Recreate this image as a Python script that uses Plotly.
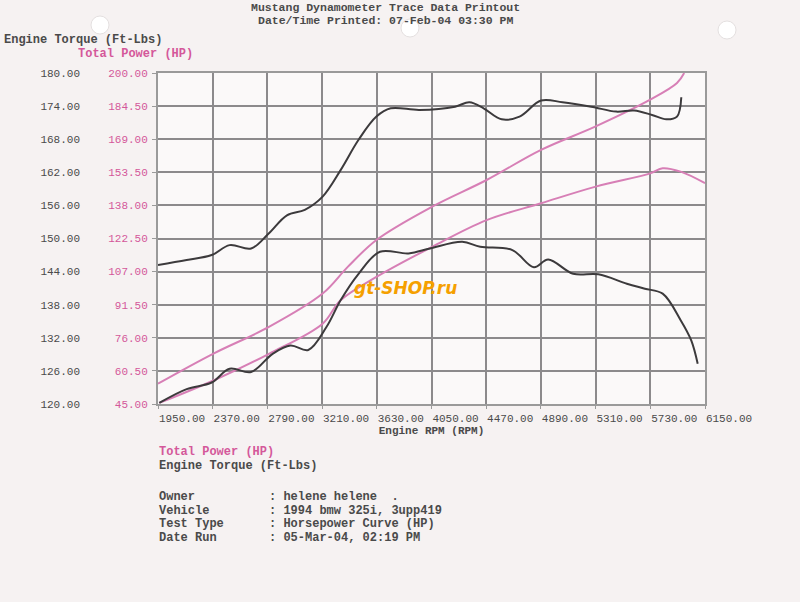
import plotly.graph_objects as go

# ---------------- data ----------------
rpm_ticks = [1950, 2370, 2790, 3210, 3630, 4050, 4470, 4890, 5310, 5730, 6150]
rpm_tick_labels = ["1950.00", "2370.00", "2790.00", "3210.00", "3630.00", "4050.00",
                   "4470.00", "4890.00", "5310.00", "5730.00", "6150.00"]
torque_ticks = [120, 126, 132, 138, 144, 150, 156, 162, 168, 174, 180]
torque_tick_labels = ["120.00", "126.00", "132.00", "138.00", "144.00", "150.00",
                      "156.00", "162.00", "168.00", "174.00", "180.00"]
power_ticks = [45, 60.5, 76, 91.5, 107, 122.5, 138, 153.5, 169, 184.5, 200]
power_tick_labels = ["45.00", "60.50", "76.00", "91.50", "107.00", "122.50",
                     "138.00", "153.50", "169.00", "184.50", "200.00"]

rpm_torque_a = [1950, 2170, 2362, 2500, 2665, 2800, 2940, 3077, 3214, 3352, 3490, 3627, 3737,
                3957, 4231, 4341, 4450, 4589, 4726, 4891, 5056, 5276, 5468, 5606, 5743,
                5853, 5935, 5968]
torque_a = [145.2, 146.1, 147.0, 148.8, 148.2, 150.9, 154.2, 155.2, 157.6, 162.4, 167.9, 172.1,
            173.6, 173.3, 173.9, 174.7, 173.6, 171.6, 172.1, 175.0, 174.7, 173.9, 173.0, 173.2,
            172.4, 171.6, 172.1, 175.6]

rpm_torque_b = [1960, 2170, 2362, 2500, 2665, 2830, 2967, 3104, 3242, 3352, 3490, 3654, 3874,
                4039, 4286, 4424, 4671, 4836, 4946, 5138, 5331, 5550, 5688, 5825, 5963,
                6045, 6094]
torque_b = [120.2, 122.7, 123.9, 126.4, 125.8, 129.1, 130.6, 129.8, 133.9, 138.8, 143.6, 147.6,
            147.3, 148.2, 149.4, 148.5, 147.9, 144.8, 146.2, 143.6, 143.5, 141.8, 140.9, 140.0,
            135.2, 131.5, 127.3]

rpm_power_a = [1950, 2376, 2802, 3214, 3407, 3627, 4055, 4473, 4891, 5311, 5729, 5935, 5990]
power_a = [54.5, 68.6, 81.1, 96.7, 109.2, 121.8, 137.4, 149.9, 164.0, 175.0, 187.5, 195.3, 200.0]

rpm_power_b = [1960, 2376, 2802, 3214, 3352, 3627, 4055, 4473, 4891, 5311, 5729, 5825, 5963, 6150]
power_b = [45.5, 56.0, 68.5, 82.6, 93.6, 104.5, 118.6, 131.1, 139.0, 146.8, 153.0, 155.4, 153.8, 148.4]

# ---------------- styling ----------------
MONO = "Liberation Mono"
PINK_TXT = "#d4589a"
PINK_LINE = "#d77fb6"
DARK_LINE = "#3c3a3c"
GRAY_TXT = "#4a4a4a"

W, H = 800, 602
ML, MR, MT, MB = 20, 95, 73, 198
PW, PH = W - ML - MR, H - MT - MB


def px(x):
    return (x - ML) / PW


def py(y):
    return (H - MB - y) / PH


fig = go.Figure()
fig.add_trace(go.Scatter(x=rpm_power_a, y=power_a, mode="lines", yaxis="y",
                         line=dict(color=PINK_LINE, width=2, shape="spline"), showlegend=False))
fig.add_trace(go.Scatter(x=rpm_power_b, y=power_b, mode="lines", yaxis="y",
                         line=dict(color=PINK_LINE, width=2, shape="spline"), showlegend=False))
fig.add_trace(go.Scatter(x=rpm_torque_a, y=torque_a, mode="lines", yaxis="y2",
                         line=dict(color=DARK_LINE, width=2, shape="spline"), showlegend=False))
fig.add_trace(go.Scatter(x=rpm_torque_b, y=torque_b, mode="lines", yaxis="y2",
                         line=dict(color=DARK_LINE, width=2, shape="spline"), showlegend=False))

x0 = px(158)
fig.update_layout(
    width=W, height=H,
    margin=dict(l=ML, r=MR, t=MT, b=MB),
    paper_bgcolor="#f6f2f2",
    plot_bgcolor="#fbf9f9",
    font=dict(family=MONO, size=11, color=GRAY_TXT),
    xaxis=dict(domain=[x0, 1], range=[1950, 6150], tickmode="array",
               tickvals=rpm_ticks, ticktext=rpm_tick_labels,
               showgrid=True, gridcolor="#8c8a8c", gridwidth=2,
               showline=True, linecolor="#9a9a9a", linewidth=2, mirror=True,
               ticks="outside", ticklen=3, tickcolor="#9a9a9a",
               tickfont=dict(family=MONO, size=11, color=GRAY_TXT),
               ticklabelshift=24, zeroline=False,
               title=dict(text="<b>Engine RPM (RPM)</b>", standoff=1,
                          font=dict(family=MONO, size=11, color=GRAY_TXT))),
    yaxis=dict(range=[45, 200], tickmode="array", tickvals=power_ticks,
               ticktext=power_tick_labels, showgrid=True, gridcolor="#8c8a8c",
               gridwidth=2, zeroline=False, ticks="outside", ticklen=4,
               tickcolor="#9a9a9a", ticklabelstandoff=2,
               tickfont=dict(family=MONO, size=11, color=PINK_TXT),
               showline=True, linecolor="#9a9a9a", linewidth=2, mirror=True),
    yaxis2=dict(range=[120, 180], tickmode="array", tickvals=torque_ticks,
                ticktext=torque_tick_labels, overlaying="y", side="left",
                anchor="free", position=px(80), showgrid=False, zeroline=False,
                showline=False, ticks="",
                tickfont=dict(family=MONO, size=11, color=GRAY_TXT)),
)

ann = []


def text(x, y, s, color=GRAY_TXT, size=12, xanchor="left"):
    ann.append(dict(x=px(x), y=py(y), xref="paper", yref="paper", text=s,
                    showarrow=False, xanchor=xanchor, yanchor="middle",
                    font=dict(family=MONO, size=size, color=color)))


text(385, 7, "<b>Mustang Dynamometer Trace Data Printout</b>", size=11.5, xanchor="center")
text(385, 21, "<b>Date/Time Printed: 07-Feb-04 03:30 PM</b>", size=11.5, xanchor="center")
text(2, 40, "<b>Engine Torque (Ft-Lbs)</b>", size=12)
text(76, 54, "<b>Total Power (HP)</b>", color=PINK_TXT, size=12)
text(157, 452, "<b>Total Power (HP)</b>", color=PINK_TXT, size=12)
text(157, 466, "<b>Engine Torque (Ft-Lbs)</b>", size=12)

labels = ["Owner", "Vehicle", "Test Type", "Date Run"]
values = [": helene helene  .", ": 1994 bmw 325i, 3upp419",
          ": Horsepower Curve (HP)", ": 05-Mar-04, 02:19 PM"]
for i, (lab, val) in enumerate(zip(labels, values)):
    text(157, 497 + i * 13.7, "<b>" + lab + "</b>", size=12)
    text(267, 497 + i * 13.7, "<b>" + val + "</b>", size=12)

# watermark
ann.append(dict(x=px(405), y=py(300), xref="paper", yref="paper",
                text="<b><i>gt-SHOP.ru</i></b>", showarrow=False,
                font=dict(family="DejaVu Sans", size=17, color="#f5a000"),
                bgcolor="rgba(0,0,0,0)"))
fig.update_layout(annotations=ann)

# punch holes
shapes = []
for cx, cy in [(100, 25), (410, 28), (727, 30)]:
    r = 9
    shapes.append(dict(type="circle", xref="paper", yref="paper",
                       x0=px(cx - r), x1=px(cx + r), y0=py(cy + r), y1=py(cy - r),
                       fillcolor="#ffffff", line=dict(color="#e4e0e0", width=1)))
fig.update_layout(shapes=shapes)

fig.write_html("out.html", config={"displayModeBar": False},
               post_script="document.body.style.margin='0';document.body.style.padding='0';document.body.style.overflow='hidden';")
